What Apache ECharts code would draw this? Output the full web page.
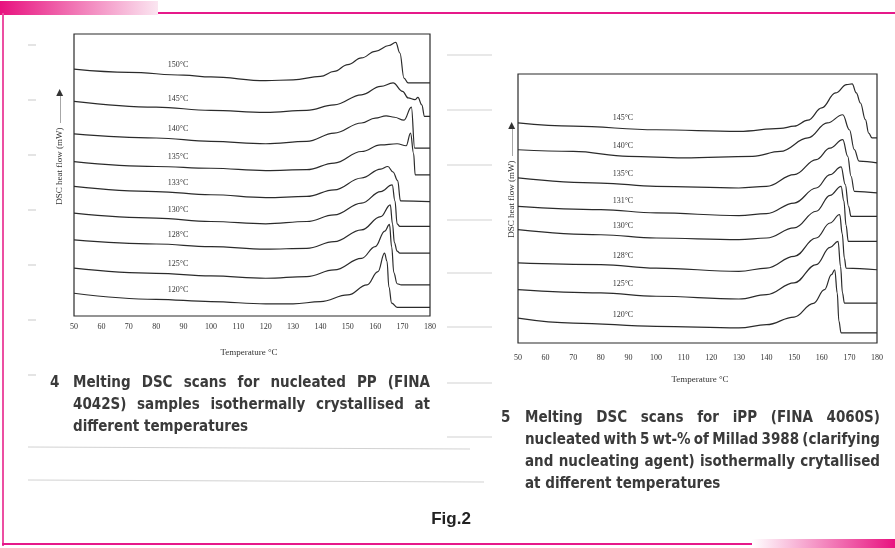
<!DOCTYPE html>
<html>
<head>
<meta charset="utf-8">
<script src="https://cdn.jsdelivr.net/npm/echarts@6/dist/echarts.min.js"></script>
<style>
  html, body { margin: 0; padding: 0; background: #fff; }
  #main { width: 895px; height: 548px; }
</style>
</head>
<body>
<div id="main"></div>
<script>
// tick labels (both panels share the same temperature scale)
var tempTicks = [50, 60, 70, 80, 90, 100, 110, 120, 130, 140, 150, 160, 170, 180];

// Fig. 4 - nucleated PP (FINA 4042S), [temperature, heat flow (arb.)]
var leftNames = ['150°C', '145°C', '140°C', '135°C', '133°C', '130°C', '128°C', '125°C', '120°C'];
var L150 = [[50, 85.7], [70, 84.6], [90, 83.6], [100, 83.0], [120, 81.7], [130, 82.0], [140, 83.2], [145, 84.9], [150, 87.3], [155, 89.6], [160, 91.9], [165, 93.9], [167.5, 95.0], [169, 91.3], [170.5, 82.6], [172, 80.9], [180, 80.9]];
var L145 = [[50, 74.5], [80, 72.5], [100, 71.4], [120, 70.7], [135, 71.4], [145, 73.3], [155, 76.8], [162, 79.7], [166.5, 80.9], [170, 78.0], [172, 75.7], [174.5, 75.1], [175.6, 75.9], [177, 73.3], [178, 69.3], [180, 69.3]];
var L140 = [[50, 63.2], [80, 61.8], [100, 60.6], [120, 59.8], [135, 60.6], [145, 63.5], [155, 67.0], [160, 68.7], [164, 69.5], [167, 69.0], [170.5, 68.0], [173.2, 72.5], [174.4, 58.3], [180, 58.3]];
var L135 = [[50, 53.6], [80, 51.9], [100, 51.3], [120, 50.5], [135, 50.8], [145, 53.1], [155, 57.1], [162, 59.4], [168, 59.8], [171.3, 59.1], [172.9, 63.5], [174, 56.5], [174.6, 49.0], [180, 49.0]];
var L133 = [[50, 45.0], [80, 43.2], [100, 42.1], [120, 41.1], [135, 41.5], [145, 43.8], [155, 47.9], [162, 51.0], [164.6, 51.9], [166.5, 50.0], [168.2, 47.0], [169.2, 40.0], [180, 39.7]];
var L130 = [[50, 35.7], [80, 34.0], [100, 32.8], [120, 32.0], [135, 32.8], [145, 35.1], [155, 39.2], [162, 43.2], [166.2, 45.5], [167.2, 40.0], [168, 32.0], [169, 31.1], [180, 31.1]];
var L128 = [[50, 26.4], [80, 25.0], [100, 24.1], [120, 23.2], [135, 23.5], [145, 25.8], [155, 29.9], [162, 34.5], [165.5, 38.6], [166.3, 32.0], [167, 25.5], [168, 22.5], [169, 21.8], [180, 21.8]];
var L125 = [[50, 16.6], [80, 14.8], [100, 13.9], [120, 13.1], [135, 13.7], [145, 16.0], [155, 20.0], [160, 24.1], [163.5, 29.5], [165.2, 31.8], [166, 24.0], [166.8, 15.0], [168, 11.2], [169.5, 10.8], [180, 10.8]];
var L120 = [[50, 7.9], [80, 5.8], [100, 5.0], [120, 4.2], [130, 4.2], [140, 5.0], [150, 7.3], [157, 10.8], [161, 15.4], [163.4, 21.8], [164.3, 19.0], [165, 10.0], [166, 4.5], [168, 3.0], [180, 3.0]];
var leftCurves = [L150, L145, L140, L135, L133, L130, L128, L125, L120];

// Fig. 5 - iPP (FINA 4060S) + 5 wt-% Millad 3988
var rightNames = ['145°C', '140°C', '135°C', '131°C', '130°C', '128°C', '125°C', '120°C'];
var R145 = [[50, 80.5], [70, 79.3], [100, 78.0], [130, 77.4], [145, 78.5], [150, 79.3], [155, 81.5], [160, 86.0], [165, 91.5], [169, 94.5], [171, 94.8], [172.5, 91.5], [174, 87.8], [175.8, 81.7], [177, 76.8], [178.2, 75.0], [180, 75.0]];
var R140 = [[50, 70.7], [70, 70.1], [90, 68.3], [110, 67.7], [135, 68.3], [145, 70.1], [155, 75.0], [162, 80.5], [167.6, 83.5], [170, 78.0], [171.8, 70.7], [173.5, 66.5], [180, 65.9]];
var R135 = [[50, 60.4], [80, 58.5], [100, 57.3], [130, 56.7], [140, 57.3], [150, 61.6], [158, 67.1], [163, 71.3], [167.6, 74.4], [169.4, 68.3], [170.6, 61.0], [171.8, 55.5], [180, 54.9]];
var R131 = [[50, 50.0], [80, 48.8], [100, 47.6], [130, 46.6], [140, 47.3], [150, 51.2], [158, 56.7], [163, 61.6], [167, 64.4], [168.5, 58.0], [169.7, 50.0], [170.6, 46.3], [180, 46.3]];
var R130 = [[50, 41.5], [80, 39.6], [100, 38.4], [130, 37.8], [140, 38.4], [150, 42.1], [158, 48.2], [163, 54.0], [167, 57.3], [168, 52.0], [168.8, 43.0], [169.6, 37.2], [180, 37.2]];
var R128 = [[50, 29.3], [80, 28.7], [100, 27.4], [130, 26.2], [140, 27.4], [150, 31.7], [158, 38.4], [163, 43.9], [166.5, 47.0], [167.4, 40.0], [168.2, 31.0], [168.8, 27.4], [180, 26.8]];
var R125 = [[50, 19.5], [80, 18.3], [100, 17.1], [130, 16.1], [140, 17.7], [150, 22.0], [158, 28.7], [163, 35.0], [165.9, 37.2], [166.8, 28.0], [167.5, 18.3], [168.2, 14.6], [180, 14.6]];
var R120 = [[50, 9.1], [70, 7.3], [100, 6.1], [130, 5.5], [140, 6.7], [150, 9.5], [157, 14.5], [161, 19.5], [163.5, 25.0], [164.7, 26.8], [165.6, 18.3], [166.2, 8.0], [167, 3.7], [180, 3.7]];
var rightCurves = [R145, R140, R135, R131, R130, R128, R125, R120];

var captionLeft = ['Melting DSC scans for nucleated PP (FINA', '4042S) samples isothermally crystallised at', 'different temperatures'];
var captionRight = ['Melting DSC scans for iPP (FINA 4060S)', 'nucleated with 5 wt-% of Millad 3988 (clarifying', 'and nucleating agent) isothermally crytallised', 'at different temperatures'];

var PINK = '#e6198a';
var CAP_FONT = 'bold 15px "Liberation Sans Narrow", "DejaVu Sans Condensed", sans-serif';
var SERIF = '"Liberation Serif", "DejaVu Serif", serif';

function valueAt(pts, x) {
  for (var i = 1; i < pts.length; i++) {
    if (pts[i][0] >= x) {
      var a = pts[i - 1], b = pts[i];
      return a[1] + (b[1] - a[1]) * (x - a[0]) / (b[0] - a[0]);
    }
  }
  return pts[pts.length - 1][1];
}

function makeSeries(pts, name, idx, labelX) {
  return {
    type: 'line',
    name: name,
    xAxisIndex: idx,
    yAxisIndex: idx,
    data: pts,
    symbol: 'none',
    smooth: 0.4,
    smoothMonotone: 'x',
    silent: true,
    lineStyle: { color: '#2b2b2b', width: 1.2 },
    markPoint: {
      symbol: 'circle',
      symbolSize: 0,
      silent: true,
      data: [{
        coord: [labelX, valueAt(pts, labelX)],
        label: {
          show: true,
          position: 'inside',
          offset: [0, -10],
          formatter: name,
          fontFamily: SERIF,
          fontSize: 8,
          color: '#333'
        }
      }]
    }
  };
}

var measureCtx = document.createElement('canvas').getContext('2d');
measureCtx.font = CAP_FONT;

// spread the words of one caption line between x0 and x1
function justifyLine(line, x0, x1, y, justify) {
  var words = line.split(' '),
    els = [],
    widths = words.map(function (w) { return measureCtx.measureText(w).width; }),
    total = widths.reduce(function (s, w) { return s + w; }, 0),
    gap = justify && words.length > 1 ? (x1 - x0 - total) / (words.length - 1) : measureCtx.measureText(' ').width,
    x = x0;
  for (var i = 0; i < words.length; i++) {
    els.push({
      type: 'text', x: x, y: y, silent: true,
      style: { text: words[i], font: CAP_FONT, fill: '#3a3a3a', verticalAlign: 'middle' }
    });
    x += widths[i] + gap;
  }
  return els;
}

function caption(num, lines, nx, x0, x1, y0, lh) {
  var els = [{
    type: 'text', x: nx, y: y0, silent: true,
    style: { text: num, font: CAP_FONT, fill: '#3a3a3a', verticalAlign: 'middle' }
  }];
  lines.forEach(function (line, i) {
    els = els.concat(justifyLine(line, x0, x1, y0 + i * lh, i < lines.length - 1));
  });
  return els;
}

function faintLine(x1, y1, x2, y2) {
  return { type: 'line', silent: true, shape: { x1: x1, y1: y1, x2: x2, y2: y2 }, style: { stroke: '#d2d2d2', lineWidth: 1.2 } };
}

var series = [];
leftCurves.forEach(function (c, i) { series.push(makeSeries(c, leftNames[i], 0, 88)); });
rightCurves.forEach(function (c, i) { series.push(makeSeries(c, rightNames[i], 1, 88)); });

var axisX = function (idx, margin) {
  return {
    type: 'value', gridIndex: idx, min: 50, max: 180, interval: 10,
    axisLine: { show: false }, axisTick: { show: false }, splitLine: { show: false },
    axisLabel: {
      margin: margin, fontFamily: SERIF, fontSize: 8, color: '#333',
      formatter: function (v) { return tempTicks.indexOf(v) >= 0 ? String(v) : ''; }
    }
  };
};

var graphics = [
  // page frame
  { type: 'rect', silent: true, shape: { x: 0, y: 1, width: 158, height: 14 },
    style: { fill: new echarts.graphic.LinearGradient(0, 0, 1, 0, [{ offset: 0, color: '#e8127f' }, { offset: 1, color: '#fbe6f1' }]) } },
  { type: 'rect', silent: true, shape: { x: 158, y: 12, width: 737, height: 2 }, style: { fill: PINK } },
  { type: 'rect', silent: true, shape: { x: 2, y: 13, width: 2, height: 533 }, style: { fill: '#ec4fa2' } },
  { type: 'rect', silent: true, shape: { x: 2, y: 543, width: 750, height: 2 }, style: { fill: PINK } },
  { type: 'rect', silent: true, shape: { x: 752, y: 539, width: 143, height: 9 },
    style: { fill: new echarts.graphic.LinearGradient(0, 0, 1, 0, [{ offset: 0, color: '#ffffff' }, { offset: 1, color: '#e8127f' }]) } },
  // axis titles
  { type: 'text', silent: true, x: 249, y: 353,
    style: { text: 'Temperature °C', font: '9px ' + SERIF, fill: '#333', align: 'center', verticalAlign: 'middle' } },
  { type: 'text', silent: true, x: 700, y: 380,
    style: { text: 'Temperature °C', font: '9px ' + SERIF, fill: '#333', align: 'center', verticalAlign: 'middle' } },
  { type: 'text', silent: true, x: 60, y: 147, rotation: Math.PI / 2,
    style: { text: 'DSC heat flow (mW)  \u2014\u2014\u2014\u25B6', font: '9px ' + SERIF, fill: '#333', align: 'center', verticalAlign: 'middle' } },
  { type: 'text', silent: true, x: 512, y: 180, rotation: Math.PI / 2,
    style: { text: 'DSC heat flow (mW)  \u2014\u2014\u2014\u25B6', font: '9px ' + SERIF, fill: '#333', align: 'center', verticalAlign: 'middle' } },
  // figure number
  { type: 'text', silent: true, x: 451, y: 519,
    style: { text: 'Fig.2', font: 'bold 17px "Liberation Sans", Arial, sans-serif', fill: '#222', align: 'center', verticalAlign: 'middle' } }
];

// ruled lines showing through the scan
[55, 110, 165, 220, 273, 327, 383, 437].forEach(function (y) { graphics.push(faintLine(447, y, 492, y)); });
[45, 100, 155, 210, 265, 320, 375].forEach(function (y) { graphics.push(faintLine(28, y, 36, y)); });
graphics.push(faintLine(28, 447, 470, 449));
graphics.push(faintLine(28, 480, 484, 482));

graphics = graphics.concat(caption('4', captionLeft, 50, 73, 430, 383, 22));
graphics = graphics.concat(caption('5', captionRight, 501, 525, 880, 418, 22));

var myChart = echarts.init(document.getElementById('main'));
myChart.setOption({
  animation: false,
  backgroundColor: '#fff',
  grid: [
    { left: 74, top: 34, width: 356, height: 282, show: true, borderColor: '#2b2b2b', borderWidth: 1.2 },
    { left: 518, top: 74, width: 359, height: 269, show: true, borderColor: '#2b2b2b', borderWidth: 1.2 }
  ],
  xAxis: [axisX(0, 7), axisX(1, 11)],
  yAxis: [
    { type: 'value', gridIndex: 0, min: 0, max: 97.9, show: false, splitLine: { show: false } },
    { type: 'value', gridIndex: 1, min: 0, max: 98.4, show: false, splitLine: { show: false } }
  ],
  series: series,
  graphic: graphics
});
</script>
</body>
</html>
